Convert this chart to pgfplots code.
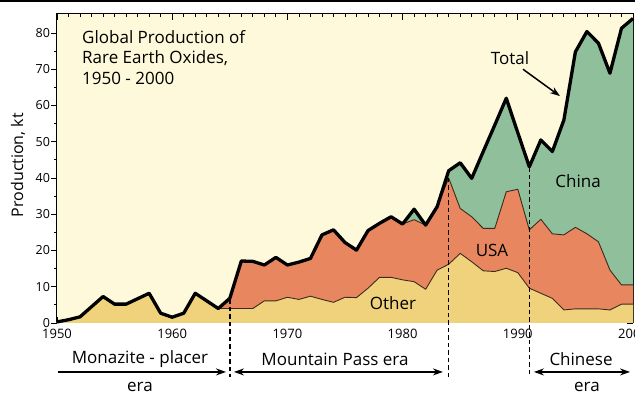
\documentclass[border=0pt]{standalone}
\usepackage{pgfplots}
\pgfplotsset{compat=1.18}
\usepackage{pgfplotstable}
\usepackage{fontspec}
\setmainfont{Open Sans}
\usetikzlibrary{arrows.meta}
\definecolor{bg}{HTML}{FEF9DA}
\definecolor{oth}{HTML}{EFD27B}
\definecolor{usa}{HTML}{E8875F}
\definecolor{chn}{HTML}{8FC09B}
\definecolor{edge}{HTML}{3B2A1E}

\pgfplotstableread{
year other usa total
1950 0.3 0.3 0.3
1951 0.9 0.9 0.9
1952 1.7 1.7 1.7
1953 4.5 4.5 4.5
1954 7.3 7.3 7.3
1955 5.2 5.2 5.2
1956 5.2 5.2 5.2
1957 6.7 6.7 6.7
1958 8.2 8.2 8.2
1959 2.7 2.7 2.7
1960 1.6 1.6 1.6
1961 2.7 2.7 2.7
1962 8.2 8.2 8.2
1963 6.1 6.1 6.1
1964 4.0 4.0 4.0
1965 4.0 6.8 6.8
1966 4.0 17.1 17.1
1967 4.0 17.0 17.0
1968 6.1 16.0 16.0
1969 6.1 18.1 18.1
1970 7.1 16.0 16.0
1971 6.5 16.8 16.8
1972 7.4 17.8 17.8
1973 6.5 24.3 24.3
1974 5.7 25.7 25.7
1975 7.1 22.2 22.2
1976 7.0 20.1 20.1
1977 9.6 25.5 25.5
1978 12.6 27.5 27.5
1979 12.6 29.3 29.3
1980 11.9 27.3 27.3
1981 11.4 28.5 31.4
1982 9.3 27.0 27.0
1983 14.6 32.1 32.1
1984 16.2 40.0 42.0
1985 19.2 31.6 44.2
1986 16.9 29.3 39.9
1987 14.4 26.1 47.3
1988 14.2 26.1 54.6
1989 15.1 36.2 62.0
1990 13.9 36.9 52.5
1991 9.6 25.7 43.1
1992 8.2 28.6 50.5
1993 6.8 24.6 47.3
1994 3.6 24.3 56.0
1995 3.9 26.4 74.8
1996 3.9 24.6 80.4
1997 3.9 22.4 77.2
1998 3.6 14.6 68.9
1999 5.2 10.5 81.3
2000 5.2 10.5 84.0
}\data

\begin{document}
\begin{tikzpicture}
% outward left ticks
\begin{axis}[
  scale only axis, width=576pt, height=309pt,
  xmin=1950, xmax=2000, ymin=0, ymax=85.24,
  axis line style={draw=none},
  xtick=\empty,
  ytick={0,10,...,80}, minor y tick num=1,
  ytick pos=left, yticklabels={},
  tick align=outside,
  major tick length=6pt, minor tick length=3pt,
  tick style={line width=0.8pt, black},
]
\end{axis}
\begin{axis}[
  scale only axis, width=576pt, height=309pt,
  xmin=1950, xmax=2000, ymin=0, ymax=85.24,
  clip=false,
  axis background/.style={fill=bg},
  axis line style={line width=1pt, black},
  xtick={1950,1960,...,2000}, minor x tick num=9,
  ytick={0,10,...,80}, minor y tick num=1,
  xtick pos=both, ytick pos=right, yticklabel pos=left, xticklabel pos=bottom,
  tick align=inside,
  major tick length=6pt, minor tick length=3pt,
  tick style={line width=0.8pt, black},
  /pgf/number format/assume math mode=true,
  xticklabel style={font=\fontsize{13}{15}\selectfont, yshift=-3pt, /pgf/number format/1000 sep={}},
  yticklabel style={font=\fontsize{12.5}{15}\selectfont, xshift=-3.5pt},
]
\addplot[fill=chn, draw=none] table[x=year,y=total] {\data} \closedcycle;
\addplot[fill=usa, draw=none] table[x=year,y=usa] {\data} \closedcycle;
\addplot[fill=oth, draw=none] table[x=year,y=other] {\data} \closedcycle;
\addplot[draw=edge, line width=0.9pt, line join=round] table[x=year,y=usa] {\data};
\addplot[draw=edge, line width=0.9pt, line join=round] table[x=year,y=other] {\data};
% era boundaries
\draw[black, line width=1.4pt, dash pattern=on 4.5pt off 3pt] (axis cs:1965,6.5) -- (axis cs:1965,-14.9);
\draw[black, line width=1.4pt, dash pattern=on 4.5pt off 3pt] (axis cs:1984,40) -- (axis cs:1984,-14.9);
\draw[black, line width=1.4pt, dash pattern=on 4.5pt off 3pt] (axis cs:1991,43) -- (axis cs:1991,-14.9);
\addplot[draw=black, line width=3.3pt, line join=round] table[x=year,y=total] {\data};
% labels
\node[anchor=north west, align=left, font=\fontsize{17}{20.5}\selectfont, inner sep=0pt]
  at (axis cs:1952.17,80.83) {Global Production of\\Rare Earth Oxides,\\1950 - 2000};
\node[font=\fontsize{17}{20}\selectfont] at (axis cs:1989.32,73.2) {Total};
\draw[line width=1.5pt, -{Stealth[length=10pt,width=7pt]}] (axis cs:1990.45,70.0) -- (axis cs:1993.66,62.6);
\node[font=\fontsize{17}{20}\selectfont] at (axis cs:1995.23,39.17) {China};
\node[font=\fontsize{17}{20}\selectfont] at (axis cs:1987.76,20.14) {USA};
\node[font=\fontsize{17}{20}\selectfont] at (axis cs:1979.17,5.52) {Other};
% eras
\node[font=\fontsize{17}{20}\selectfont] at (axis cs:1957.2,-9.9) {Monazite - placer};
\node[font=\fontsize{17}{20}\selectfont] at (axis cs:1957.2,-17.6) {era};
\draw[line width=1.3pt, -{Stealth[length=10pt,width=7pt]}] (axis cs:1950.09,-13.5) -- (axis cs:1964.67,-13.5);
\node[font=\fontsize{17}{20}\selectfont] at (axis cs:1974.13,-9.9) {Mountain Pass era};
\draw[line width=1.3pt, {Stealth[length=10pt,width=7pt]}-{Stealth[length=10pt,width=7pt]}] (axis cs:1965.36,-13.5) -- (axis cs:1983.5,-13.5);
\node[font=\fontsize{17}{20}\selectfont] at (axis cs:1995.49,-9.9) {Chinese};
\node[font=\fontsize{17}{20}\selectfont] at (axis cs:1996.0,-17.6) {era};
\draw[line width=1.3pt, {Stealth[length=10pt,width=7pt]}-{Stealth[length=10pt,width=7pt]}] (axis cs:1991.4,-13.5) -- (axis cs:1999.74,-13.5);
\node[rotate=90, font=\fontsize{16}{19}\selectfont] at ([xshift=-39pt]rel axis cs:0,0.511) {Production, kt};
\end{axis}
\draw[line width=1.6pt] (-57pt,322.2pt) -- (578pt,322.2pt);
\pgfresetboundingbox
\useasboundingbox (-57pt,-73pt) rectangle (578pt,323pt);
\end{tikzpicture}
\end{document}
